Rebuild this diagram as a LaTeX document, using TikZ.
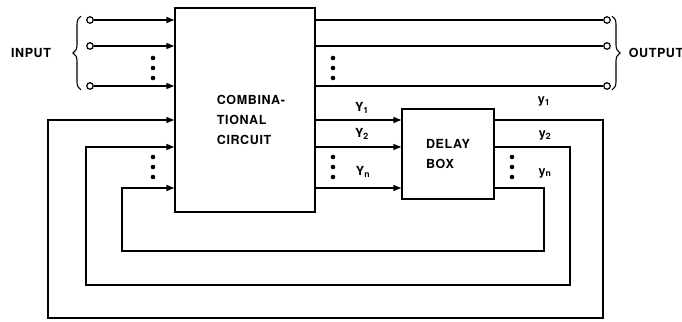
\documentclass[tikz,border=0pt]{standalone}
\usepackage{fontspec}
\setmainfont{TeX Gyre Heros}[LetterSpace=5]
\usetikzlibrary{arrows.meta,decorations.pathreplacing}

\begin{document}
\begin{tikzpicture}[
  x=1pt, y=-1pt,
  line width=1.4pt,
  lbl/.style={font=\fontsize{12.5}{20}\selectfont\bfseries, inner sep=1pt},
  block/.style={draw, line width=1.4pt, inner sep=0pt},
  term/.style={draw, circle, minimum size=6.5pt, inner sep=0pt, line width=1.2pt},
  arrow/.style={-{Triangle[length=8pt,width=6pt]}},
  brc/.style={decorate, decoration={brace, amplitude=8pt}, line width=1.1pt}
]
\useasboundingbox (0,0) rectangle (682,321);
% blocks
\node[block, minimum width=140pt, minimum height=204pt] (comb) at (245,110) {};
\node[lbl, align=left] (combtxt) at (251,120) {COMBINA-\\TIONAL\\CIRCUIT};
\node[block, lbl, align=left, minimum width=92pt, minimum height=90pt] (delay) at (448,154) {DELAY\\BOX};
% terminals
\node[term] (in1) at (90,20) {};
\node[term] (in2) at (90,46) {};
\node[term] (in3) at (90,86) {};
\node[term] (out1) at (607,20) {};
\node[term] (out2) at (607,46) {};
\node[term] (out3) at (607,86) {};
\draw[brc] ([xshift=-9pt]in3.south) -- ([xshift=-9pt]in1.north);
\draw[brc] ([xshift=5pt]out1.north) -- ([xshift=5pt]out3.south);
\node[lbl] (inlbl) at (31,53) {INPUT};
\node[lbl] (outlbl) at (656,53) {OUTPUT};
% feedback levels and loop corners
\coordinate (f1) at (0,120);
\coordinate (f2) at (0,147);
\coordinate (f3) at (0,188);
\coordinate (r1) at (603,318);
\coordinate (l1) at (48,318);
\coordinate (r2) at (570,285);
\coordinate (l2) at (86,285);
\coordinate (r3) at (544,251);
\coordinate (l3) at (122,251);
% lines
\foreach \i in {1,2,3} {
  \draw[arrow] (in\i) -- (comb.west |- in\i);
  \draw (comb.east |- out\i) -- (out\i);
  \draw[arrow] (comb.east |- f\i) -- (delay.west |- f\i);
  \draw[arrow] (delay.east |- f\i) -| (r\i) -- (l\i) |- (comb.west |- f\i);
}
% labels
\node[lbl] (Y1) at (362,108) {Y\textsubscript{1}};
\node[lbl] (Y2) at (362,134) {Y\textsubscript{2}};
\node[lbl] (Yn) at (363,172) {Y\textsubscript{n}};
\node[lbl] (y1) at (544,101) {y\textsubscript{1}};
\node[lbl] (y2) at (545,135) {y\textsubscript{2}};
\node[lbl] (yn) at (545,173) {y\textsubscript{n}};
% dots
\foreach \x/\y in {153/58, 333/58, 153/157, 333/157, 512/157}
  \foreach \d in {0,10,20}
    \fill (\x,\y+\d) circle (2.3pt);
\end{tikzpicture}
\end{document}
